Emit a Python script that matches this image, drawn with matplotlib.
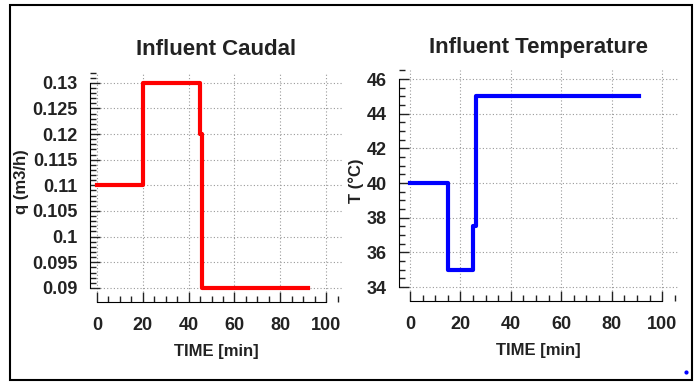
import numpy as np
import matplotlib
matplotlib.use("Agg")
import matplotlib.pyplot as plt
from matplotlib.ticker import MultipleLocator
from matplotlib.patches import Rectangle
from matplotlib.lines import Line2D

plt.rcParams['font.family'] = ['Liberation Sans', 'DejaVu Sans']
plt.rcParams['font.weight'] = 'bold'
plt.rcParams['axes.titleweight'] = 'bold'
plt.rcParams['axes.labelweight'] = 'bold'
plt.rcParams['text.color'] = '#222222'
plt.rcParams['axes.labelcolor'] = '#222222'
plt.rcParams['xtick.color'] = '#222222'
plt.rcParams['ytick.color'] = '#222222'

# --- data (step profiles) ---
time_q = [0, 20, 20, 45, 45, 46, 46, 92]
q_vals = [0.11, 0.11, 0.13, 0.13, 0.12, 0.12, 0.09, 0.09]

time_t = [0, 15, 15, 25, 25, 26, 26, 91]
t_vals = [40, 40, 35, 35, 37.5, 37.5, 45, 45]

fig = plt.figure(figsize=(6.97, 3.83), dpi=100)

# outer frame
fig.add_artist(Rectangle((10 / 697, 1 - 380 / 383), 682 / 697, 375 / 383,
                         transform=fig.transFigure, fill=False,
                         edgecolor='black', linewidth=1.5))
# small blue dot bottom right
fig.add_artist(Line2D([686 / 697], [1 - 372 / 383], transform=fig.transFigure,
                      marker='o', markersize=2, color='blue'))


def style_axes(ax):
    for s in ['top', 'right']:
        ax.spines[s].set_visible(False)
    ax.spines['bottom'].set_position(('outward', 7))
    ax.spines['bottom'].set_bounds(0, 100)
    ax.xaxis.set_major_locator(MultipleLocator(20))
    ax.xaxis.set_minor_locator(MultipleLocator(5))
    ax.tick_params(which='both', direction='in', labelsize=13, width=1)
    ax.tick_params(which='major', length=7)
    ax.tick_params(which='minor', length=4)
    ax.tick_params(axis='x', pad=11)
    ax.tick_params(axis='y', pad=9)
    ax.grid(True, which='major', linestyle=(0, (1, 2)), color='#999999',
            linewidth=0.8)
    ax.set_axisbelow(True)
    ax.set_xlabel('TIME [min]', fontsize=12, labelpad=7)


# ---------- left: Influent Caudal ----------
ax1 = fig.add_axes([90 / 697, 1 - 292 / 383, 253 / 697, 220 / 383])
ax1.plot(time_q, q_vals, color='red', linewidth=3)
ax1.set_xlim(-3.06, 107.4)
ax1.set_ylim(0.0892, 0.1321)
ax1.set_yticks(np.arange(0.09, 0.1301, 0.005))
ax1.set_yticklabels(['0.09', '0.095', '0.1', '0.105', '0.11', '0.115',
                     '0.12', '0.125', '0.13'])
ax1.yaxis.set_minor_locator(MultipleLocator(0.001))
ax1.spines['left'].set_bounds(0.09, 0.13)
style_axes(ax1)
ax1.set_ylabel('q (m3/h)', fontsize=12, labelpad=2)
ax1.set_title('Influent Caudal', fontsize=16, pad=12)

# ---------- right: Influent Temperature ----------
ax2 = fig.add_axes([399 / 697, 1 - 291 / 383, 279 / 697, 221 / 383])
ax2.plot(time_t, t_vals, color='blue', linewidth=3)
ax2.set_xlim(-4.37, 106.3)
ax2.set_ylim(33.77, 46.52)
ax2.yaxis.set_major_locator(MultipleLocator(2))
ax2.yaxis.set_minor_locator(MultipleLocator(0.5))
ax2.spines['left'].set_bounds(34, 46)
style_axes(ax2)
ax2.set_ylabel('T (°C)', fontsize=12, labelpad=2)
ax2.set_title('Influent Temperature', fontsize=16, pad=12)

fig.savefig('out.png', dpi=100)
